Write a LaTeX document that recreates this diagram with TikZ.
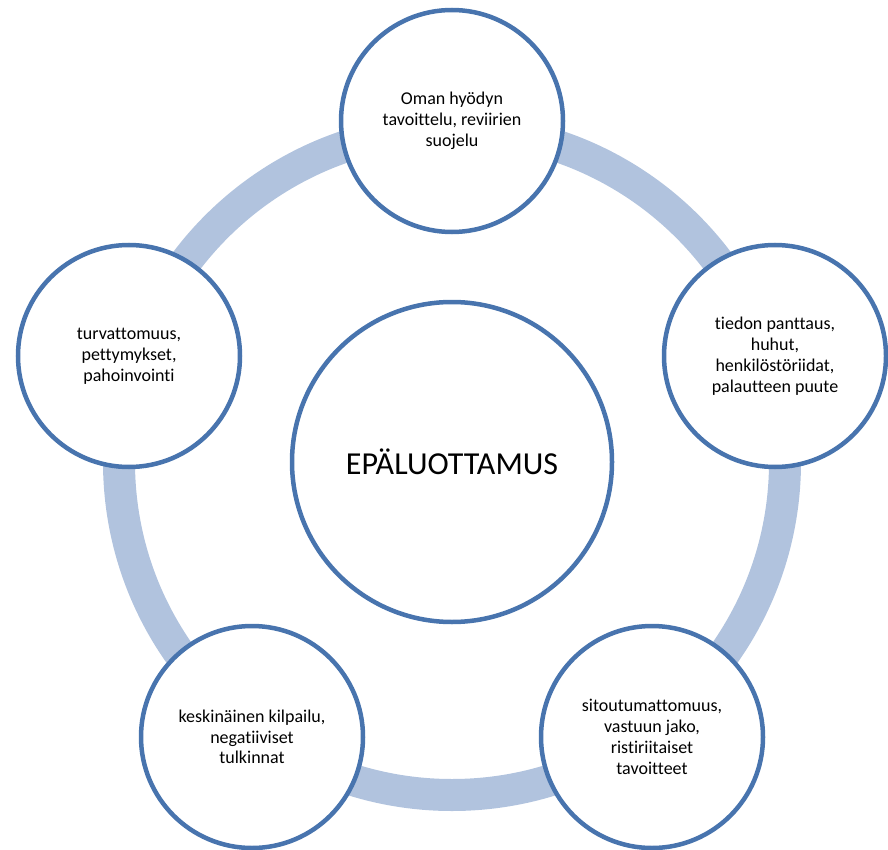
\documentclass[tikz,border=0pt]{standalone}
\usepackage{fontspec}
\setmainfont{Carlito}[Ligatures={NoCommon,NoDiscretionary,NoRequired,NoContextual}]
\definecolor{ringblue}{RGB}{177,195,222}
\definecolor{edgeblue}{RGB}{72,116,174}
\tikzset{
  ring/.style={draw=ringblue, line width=32pt},
  satellite/.style={circle, draw=edgeblue, line width=4.5pt, fill=white,
    minimum size=222pt, inner sep=0pt, align=center,
    font=\fontsize{18}{20.8}\selectfont},
  hub/.style={circle, draw=edgeblue, line width=4.5pt, fill=white,
    minimum size=320pt, inner sep=0pt, font=\fontsize{32}{36}\selectfont}
}
\begin{document}
\begin{tikzpicture}[x=1pt,y=-1pt]
  \useasboundingbox (0,0) rectangle (888,850);
  \coordinate (mid) at (452,462);
  % light connecting ring
  \draw[ring] (mid) circle[radius=333];
  % central concept
  \node[hub] (center) at (mid) {EPÄLUOTTAMUS};
  % surrounding factors
  \node[satellite] (top) at (452,121) {Oman hyödyn\\tavoittelu, reviirien\\suojelu};
  \node[satellite] (right) at (775,356) {tiedon panttaus,\\huhut,\\henkilöstöriidat,\\palautteen puute};
  \node[satellite] (botright) at (652,737) {sitoutumattomuus,\\vastuun jako,\\ristiriitaiset\\tavoitteet};
  \node[satellite] (botleft) at (252,737) {keskinäinen kilpailu,\\negatiiviset\\tulkinnat};
  \node[satellite] (left) at (129,356) {turvattomuus,\\pettymykset,\\pahoinvointi};
\end{tikzpicture}
\end{document}
